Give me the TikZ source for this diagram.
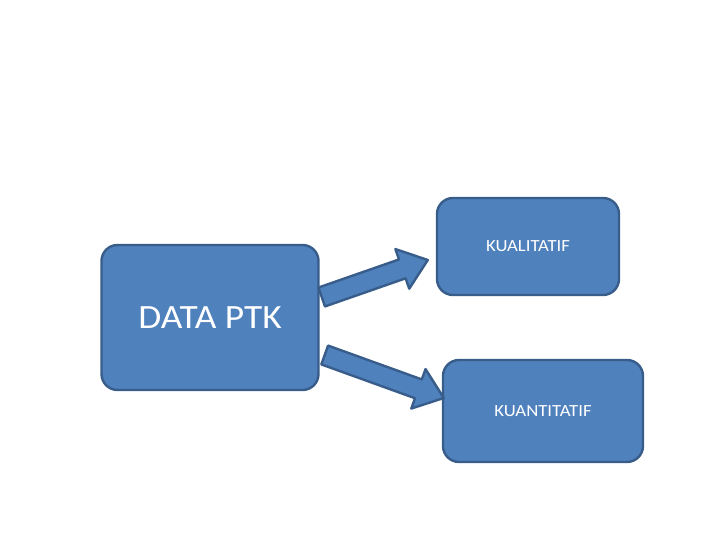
\documentclass[tikz,border=0pt]{standalone}
\usepackage{fontspec}
\setmainfont{Carlito}
\newfontfamily\slidefont[FakeStretch=1.1]{Carlito}
\usetikzlibrary{calc}
\definecolor{boxblue}{RGB}{79,129,189}
\definecolor{edgeblue}{RGB}{56,93,138}
% block arrow from tail to tip
\newcommand{\blockarrow}[2]{%
  \coordinate (hb) at ($(#2)!27pt!(#1)$);
  \filldraw[box line] ($(#1)!10pt!90:(#2)$) -- ($(hb)!10pt!90:(#2)$) -- ($(hb)!21pt!90:(#2)$)
    -- (#2) -- ($(hb)!21pt!-90:(#2)$) -- ($(hb)!10pt!-90:(#2)$) -- ($(#1)!10pt!-90:(#2)$) -- cycle;}
\begin{document}
\begin{tikzpicture}[x=1pt, y=-1pt,
    box line/.style={fill=boxblue, draw=edgeblue, line width=2.4pt, line join=round},
    blue box/.style={box line, rounded corners=16pt, text=white, inner sep=0pt}]
    \useasboundingbox (0,0) rectangle (720,540);
    \node[blue box, minimum width=217pt, minimum height=145pt, font=\slidefont\fontsize{34}{40}\selectfont] (data) at (210,317.5) {DATA PTK};
    \node[blue box, minimum width=182pt, minimum height=97pt, font=\slidefont\fontsize{17}{20}\selectfont] (kual) at (528,246.5) {KUALITATIF};
    \node[blue box, minimum width=200pt, minimum height=102pt, font=\slidefont\fontsize{17}{20}\selectfont] (kuan) at (543,411) {KUANTITATIF};
    \coordinate (t1) at ($(data.east)+(2,-20.5)$);
    \coordinate (p1) at ($(kual.west)+(-8,13.5)$);
    \coordinate (t2) at ($(data.east)+(5,37.5)$);
    \coordinate (p2) at ($(kuan.west)+(2,-13)$);
    \blockarrow{t1}{p1}
    \blockarrow{t2}{p2}
\end{tikzpicture}
\end{document}
